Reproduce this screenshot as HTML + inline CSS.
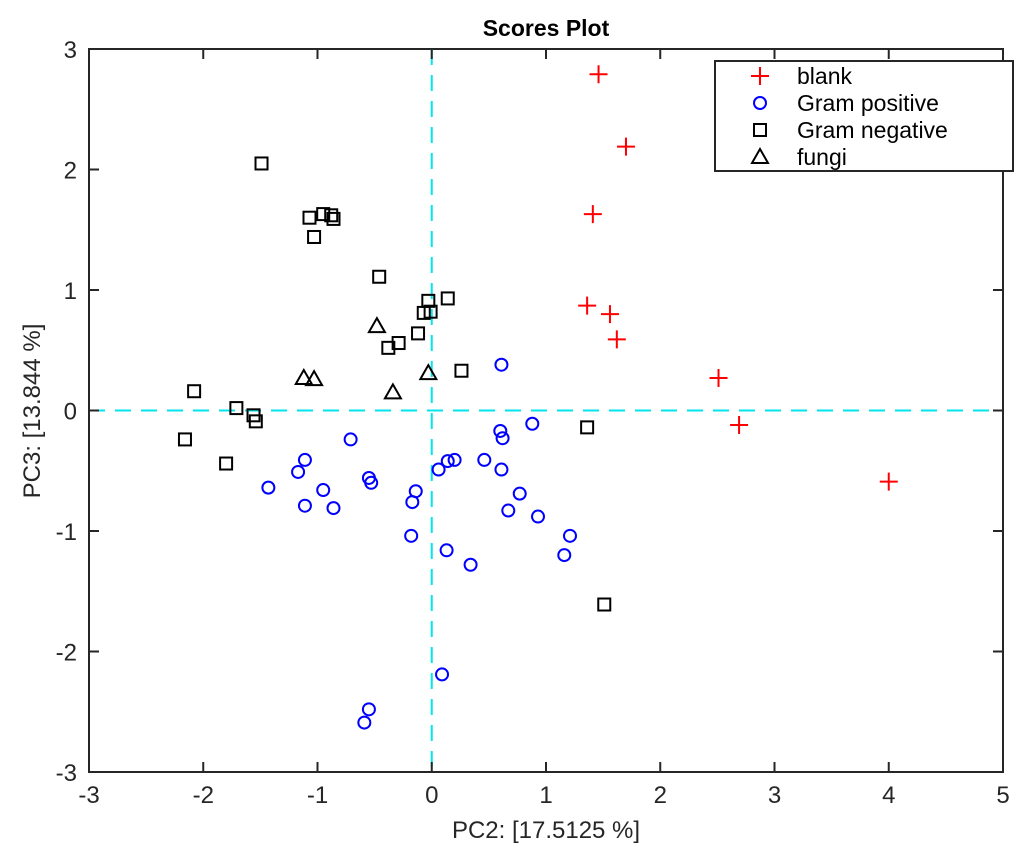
<!DOCTYPE html>
<html><head><meta charset="utf-8"><style>
body{margin:0;background:#fff;}
svg text{font-family:"Liberation Sans",sans-serif;}
</style></head><body>
<svg id="chart" width="1024" height="854" xmlns="http://www.w3.org/2000/svg">
<rect width="1024" height="854" fill="#fff"/>
<g id="plot"></g>
</svg>
<script>
const blankX=[1.46,1.70,1.41,1.36,1.56,1.62,2.51,2.69,4.0];
const blankY=[2.79,2.19,1.63,0.87,0.80,0.59,0.27,-0.12,-0.59];
const gposX=[0.61,0.60,0.62,0.88,-0.71,0.46,0.20,0.14,0.06,0.61,0.77,0.67,0.93,1.21,1.16,-1.11,-1.17,-1.43,-0.95,-1.11,-0.86,-0.55,-0.53,-0.14,-0.17,-0.18,0.13,0.34,0.09,-0.55,-0.59];
const gposY=[0.38,-0.17,-0.23,-0.11,-0.24,-0.41,-0.41,-0.42,-0.49,-0.49,-0.69,-0.83,-0.88,-1.04,-1.20,-0.41,-0.51,-0.64,-0.66,-0.79,-0.81,-0.56,-0.60,-0.67,-0.76,-1.04,-1.16,-1.28,-2.19,-2.48,-2.59];
const gnegX=[-1.49,-1.07,-0.95,-0.88,-0.86,-1.03,-0.46,-0.03,0.14,-0.07,-0.01,-0.12,-0.29,-0.38,0.26,-2.08,-1.71,-1.56,-1.54,-2.16,-1.80,1.36,1.51];
const gnegY=[2.05,1.60,1.63,1.62,1.59,1.44,1.11,0.91,0.93,0.81,0.82,0.64,0.56,0.52,0.33,0.16,0.02,-0.04,-0.09,-0.24,-0.44,-0.14,-1.61];
const fungiX=[-0.48,-1.12,-1.03,-0.34,-0.03];
const fungiY=[0.70,0.27,0.26,0.15,0.31];
const xTicks=[-3,-2,-1,0,1,2,3,4,5];
const yTicks=[-3,-2,-1,0,1,2,3];

const L=89,R=1003,T=49,B=772;
const sx=v=>L+(v+3)/8*(R-L);
const sy=v=>B-(v+3)/6*(B-T);
const NS="http://www.w3.org/2000/svg";
const g=document.getElementById('plot');
function mk(tag,attrs,parent){const e=document.createElementNS(NS,tag);for(const k in attrs)e.setAttribute(k,attrs[k]);(parent||g).appendChild(e);return e;}

let fr=mk('rect',{x:L,y:T,width:R-L,height:B-T,fill:'none',stroke:'#262626','stroke-width':2});


let zl=mk('line',{x1:sx(0),x2:sx(0),y1:T,y2:B,stroke:'#00e5ee','stroke-width':2,'stroke-dasharray':'16,10'});


let zh=mk('line',{x1:L,x2:R,y1:sy(0),y2:sy(0),stroke:'#00e5ee','stroke-width':2,'stroke-dasharray':'16,10'});


xTicks.forEach(t=>{const x=sx(t);
 mk('line',{x1:x,x2:x,y1:B,y2:B-10,stroke:'#262626','stroke-width':2});
 mk('line',{x1:x,x2:x,y1:T,y2:T+10,stroke:'#262626','stroke-width':2});
 const tx=mk('text',{x:x,y:B+31,'text-anchor':'middle','font-size':24,fill:'#262626'});tx.textContent=t;
 
 
});
yTicks.forEach(t=>{const y=sy(t);
 mk('line',{x1:L,x2:L+10,y1:y,y2:y,stroke:'#262626','stroke-width':2});
 mk('line',{x1:R,x2:R-10,y1:y,y2:y,stroke:'#262626','stroke-width':2});
 const tx=mk('text',{x:L-12,y:y+9,'text-anchor':'end','font-size':24,fill:'#262626'});tx.textContent=t;
 
 
});
let ti=mk('text',{x:546,y:36,'text-anchor':'middle','font-size':23,'font-weight':'bold',fill:'#000'});ti.textContent='Scores Plot';


let xt=mk('text',{x:546,y:838,'text-anchor':'middle','font-size':24,fill:'#262626'});xt.textContent='PC2: [17.5125 %]';


let yt=mk('text',{x:0,y:0,'text-anchor':'middle','font-size':24,fill:'#262626',transform:'translate(40,411) rotate(-90)'});yt.textContent='PC3: [13.844 %]';



function marker(type,x,y,parent){
 if(type==='plus'){return mk('path',{d:`M${x-9},${y}H${x+9}M${x},${y-9}V${y+9}`,stroke:'#ff0000','stroke-width':2,fill:'none'},parent);}
 if(type==='circle')return mk('circle',{cx:x,cy:y,r:6,stroke:'#0000ff','stroke-width':2,fill:'none'},parent);
 if(type==='square')return mk('rect',{x:x-6,y:y-6,width:12,height:12,stroke:'#000','stroke-width':2,fill:'none'},parent);
 return mk('path',{d:`M${x},${y-8}L${x+8},${y+6}L${x-8},${y+6}Z`,stroke:'#000','stroke-width':2,fill:'none'},parent);
}
function series(xs,ys,type,name){
 const sg=mk('g',{});
 
 
 xs.forEach((v,i)=>{const m=marker(type,sx(v),sy(ys[i]),sg);
  
  
 });
}
series(gnegX,gnegY,'square','gram-negative');
series(fungiX,fungiY,'tri','fungi');
series(gposX,gposY,'circle','gram-positive');
series(blankX,blankY,'plus','blank');

const lg=mk('g',{});


mk('rect',{x:715,y:61,width:298,height:110,fill:'#fff',stroke:'#262626','stroke-width':2},lg);
const labels=['blank','Gram positive','Gram negative','fungi'];
const types=['plus','circle','square','tri'];
labels.forEach((l,i)=>{const y=76+i*27;
 const e=mk('g',{},lg);
 
 
 marker(types[i],760,y,e);
 const t=mk('text',{x:797,y:y+8,'font-size':23,fill:'#000'},e);t.textContent=l;
});
</script>
</body></html>
